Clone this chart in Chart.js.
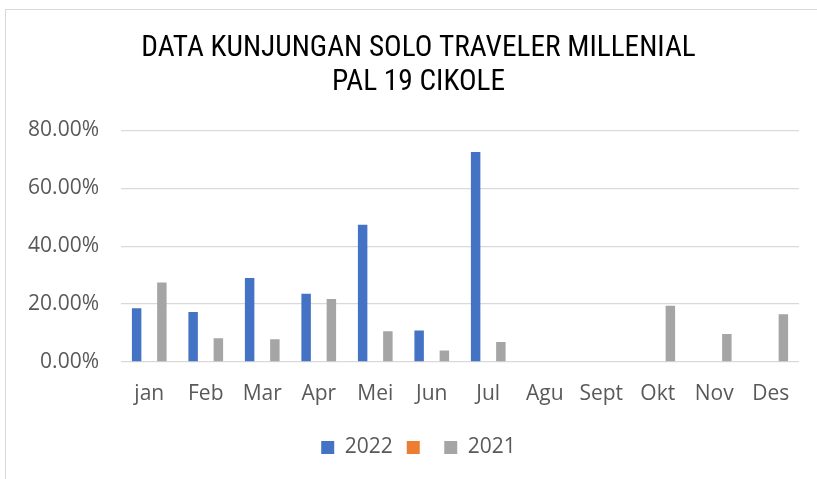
<!DOCTYPE html>
<html lang="en">
<head>
  <meta charset="UTF-8">
  <title>Data Kunjungan Solo Traveler Millenial</title>
  <script src="https://cdn.jsdelivr.net/npm/chart.js"></script>
  <style>
    body {
      margin: 0;
      padding: 0;
      background: #fff;
      overflow: hidden;
    }
    .frame {
      position: absolute;
      left: 5px;
      top: 9px;
      width: 900px;
      height: 600px;
      border: 1px solid #d9d9d9;
      box-sizing: border-box;
    }
    .chart-container {
      position: absolute;
      left: 0;
      top: 0;
      width: 817px;
      height: 479px;
    }
  </style>
</head>
<body>
  <div class="frame"></div>
  <div class="chart-container">
    <canvas id="kunjunganChart"></canvas>
  </div>
  <script>
    // Month labels
    const months = ['jan', 'Feb', 'Mar', 'Apr', 'Mei', 'Jun', 'Jul', 'Agu', 'Sept', 'Okt', 'Nov', 'Des'];

    // Values in percent
    const visits2022 = [18.6, 17.3, 29.0, 23.6, 47.4, 10.9, 72.6, null, null, null, null, null];
    const visitsEmpty = [null, null, null, null, null, null, null, null, null, null, null, null];
    const visits2021 = [27.5, 8.2, 7.9, 21.8, 10.6, 4.0, 6.9, null, null, 19.4, 9.7, 16.5];

    const titleLines = ['DATA KUNJUNGAN SOLO TRAVELER MILLENIAL', 'PAL 19 CIKOLE'];

    const textGray = '#595959';
    const labelFont = "'Open Sans', sans-serif";

    // Left padding centres title and legend like the original,
    // so let the y labels spill into that padding instead of being clipped
    const unclipYLabels = {
      id: 'unclipYLabels',
      afterLayout(chart) {
        chart.scales.y.left = 0;
      }
    };

    const ctx = document.getElementById('kunjunganChart').getContext('2d');
    new Chart(ctx, {
      type: 'bar',
      data: {
        labels: months,
        datasets: [
          { label: '2022', data: visits2022, backgroundColor: '#4472c4' },
          { label: '', data: visitsEmpty, backgroundColor: '#ed7d31' },
          { label: '2021', data: visits2021, backgroundColor: '#a5a5a5' }
        ]
      },
      options: {
        responsive: true,
        maintainAspectRatio: false,
        animation: false,
        categoryPercentage: 0.67,
        barPercentage: 0.75,
        layout: {
          padding: { left: 38, right: 18, top: 0, bottom: 11 }
        },
        plugins: {
          tooltip: { enabled: false },
          title: {
            display: true,
            text: titleLines,
            color: '#000',
            font: { family: "'Roboto Condensed', sans-serif", size: 29.3, weight: 'normal', lineHeight: 1.16 },
            padding: { top: 32, bottom: 30.5 }
          },
          legend: {
            position: 'bottom',
            labels: {
              color: textGray,
              font: { family: labelFont, size: 21 },
              boxWidth: 13,
              boxHeight: 13,
              padding: 14
            }
          }
        },
        scales: {
          x: {
            grid: { display: false, drawTicks: false },
            border: { display: false },
            ticks: {
              color: textGray,
              font: { family: labelFont, size: 21 },
              padding: 19,
              maxRotation: 0,
              autoSkip: false
            },
            afterFit: scale => { scale.height = 61; }
          },
          y: {
            min: 0,
            max: 80,
            grid: { color: '#d9d9d9', lineWidth: 1.3, drawTicks: false },
            border: { display: false },
            ticks: {
              stepSize: 20,
              color: textGray,
              font: { family: labelFont, size: 21 },
              padding: 22,
              callback: v => v.toFixed(2) + '%'
            },
            afterFit: scale => { scale.width = 83; }
          }
        }
      },
      plugins: [unclipYLabels]
    });
  </script>
</body>
</html>
